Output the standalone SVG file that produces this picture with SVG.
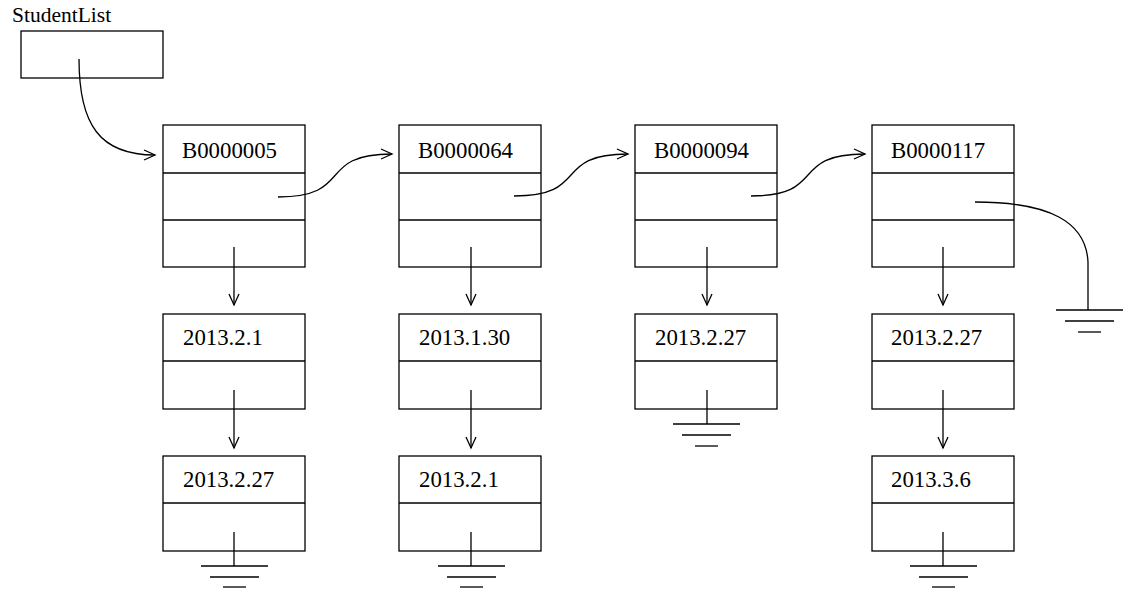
<svg xmlns="http://www.w3.org/2000/svg" width="1142" height="608" viewBox="0 0 1142 608">
<style>
.box{fill:#fff;stroke:#000;stroke-width:1.3}
.ln{fill:none;stroke:#000;stroke-width:1.3}
text{font-family:"Liberation Serif","Times New Roman",serif;font-size:22.8px;fill:#000}
text.lbl{font-size:21.5px}
</style>
<defs>
<marker id="arr" markerWidth="14" markerHeight="14" refX="12" refY="7" orient="auto" markerUnits="userSpaceOnUse">
<path d="M1,2 L12,7 L1,12" fill="none" stroke="#000" stroke-width="1.3"/>
</marker>
</defs>
<rect width="1142" height="608" fill="#fff"/>
<g id="studentlist">
<text class="lbl" x="12" y="22">StudentList</text>
<rect class="box" x="21" y="31" width="142" height="47"/>
</g>
<g id="s1">
<rect class="box" x="163" y="125" width="142" height="142"/>
<line class="ln" x1="163" y1="173" x2="305" y2="173"/>
<line class="ln" x1="163" y1="220" x2="305" y2="220"/>
<text x="182" y="158">B0000005</text>
</g>
<g id="s2">
<rect class="box" x="399" y="125" width="142" height="142"/>
<line class="ln" x1="399" y1="173" x2="541" y2="173"/>
<line class="ln" x1="399" y1="220" x2="541" y2="220"/>
<text x="418" y="158">B0000064</text>
</g>
<g id="s3">
<rect class="box" x="635" y="125" width="142" height="142"/>
<line class="ln" x1="635" y1="173" x2="777" y2="173"/>
<line class="ln" x1="635" y1="220" x2="777" y2="220"/>
<text x="654" y="158">B0000094</text>
</g>
<g id="s4">
<rect class="box" x="872" y="125" width="142" height="142"/>
<line class="ln" x1="872" y1="173" x2="1014" y2="173"/>
<line class="ln" x1="872" y1="220" x2="1014" y2="220"/>
<text x="891" y="158">B0000117</text>
</g>
<g id="d1a">
<rect class="box" x="163" y="314" width="142" height="95"/>
<line class="ln" x1="163" y1="361" x2="305" y2="361"/>
<text x="183" y="345">2013.2.1</text>
</g>
<g id="d1b">
<rect class="box" x="163" y="456" width="142" height="95"/>
<line class="ln" x1="163" y1="503" x2="305" y2="503"/>
<text x="183" y="487">2013.2.27</text>
</g>
<g id="d2a">
<rect class="box" x="399" y="314" width="142" height="95"/>
<line class="ln" x1="399" y1="361" x2="541" y2="361"/>
<text x="419" y="345">2013.1.30</text>
</g>
<g id="d2b">
<rect class="box" x="399" y="456" width="142" height="95"/>
<line class="ln" x1="399" y1="503" x2="541" y2="503"/>
<text x="419" y="487">2013.2.1</text>
</g>
<g id="d3a">
<rect class="box" x="635" y="314" width="142" height="95"/>
<line class="ln" x1="635" y1="361" x2="777" y2="361"/>
<text x="655" y="345">2013.2.27</text>
</g>
<g id="d4a">
<rect class="box" x="872" y="314" width="142" height="95"/>
<line class="ln" x1="872" y1="361" x2="1014" y2="361"/>
<text x="891" y="345">2013.2.27</text>
</g>
<g id="d4b">
<rect class="box" x="872" y="456" width="142" height="95"/>
<line class="ln" x1="872" y1="503" x2="1014" y2="503"/>
<text x="891" y="487">2013.3.6</text>
</g>
<g id="connectors">
<path class="ln" d="M79,59 C79,125 100,155 155,155" marker-end="url(#arr)"/>
<path class="ln" d="M278,197 C355,197 315,154 392,154" marker-end="url(#arr)"/>
<path class="ln" d="M514,196 C591,196 551,154 628,154" marker-end="url(#arr)"/>
<path class="ln" d="M751,196 C828,196 788,154 865,154" marker-end="url(#arr)"/>
<line class="ln" x1="234" y1="247" x2="234" y2="305" marker-end="url(#arr)"/>
<line class="ln" x1="471" y1="247" x2="471" y2="305" marker-end="url(#arr)"/>
<line class="ln" x1="707" y1="247" x2="707" y2="305" marker-end="url(#arr)"/>
<line class="ln" x1="943" y1="247" x2="943" y2="305" marker-end="url(#arr)"/>
<line class="ln" x1="234" y1="390" x2="234" y2="448" marker-end="url(#arr)"/>
<line class="ln" x1="471" y1="390" x2="471" y2="448" marker-end="url(#arr)"/>
<line class="ln" x1="943" y1="390" x2="943" y2="448" marker-end="url(#arr)"/>
<path class="ln" d="M975,202 C1050,202 1086,222 1088,262 L1088,310"/>
<line class="ln" x1="1056" y1="310" x2="1123" y2="310"/>
<line class="ln" x1="1065" y1="321" x2="1114" y2="321"/>
<line class="ln" x1="1078" y1="332" x2="1101" y2="332"/>
<line class="ln" x1="707" y1="390" x2="707" y2="424"/>
<line class="ln" x1="673" y1="424" x2="740" y2="424"/>
<line class="ln" x1="682" y1="435" x2="731" y2="435"/>
<line class="ln" x1="695" y1="446" x2="718" y2="446"/>
<line class="ln" x1="234" y1="532" x2="234" y2="566"/>
<line class="ln" x1="201" y1="566" x2="268" y2="566"/>
<line class="ln" x1="210" y1="577" x2="259" y2="577"/>
<line class="ln" x1="223" y1="587" x2="246" y2="587"/>
<line class="ln" x1="471" y1="532" x2="471" y2="566"/>
<line class="ln" x1="438" y1="566" x2="505" y2="566"/>
<line class="ln" x1="447" y1="577" x2="496" y2="577"/>
<line class="ln" x1="460" y1="587" x2="483" y2="587"/>
<line class="ln" x1="943" y1="532" x2="943" y2="566"/>
<line class="ln" x1="910" y1="566" x2="977" y2="566"/>
<line class="ln" x1="919" y1="577" x2="968" y2="577"/>
<line class="ln" x1="932" y1="587" x2="955" y2="587"/>
</g>
</svg>
